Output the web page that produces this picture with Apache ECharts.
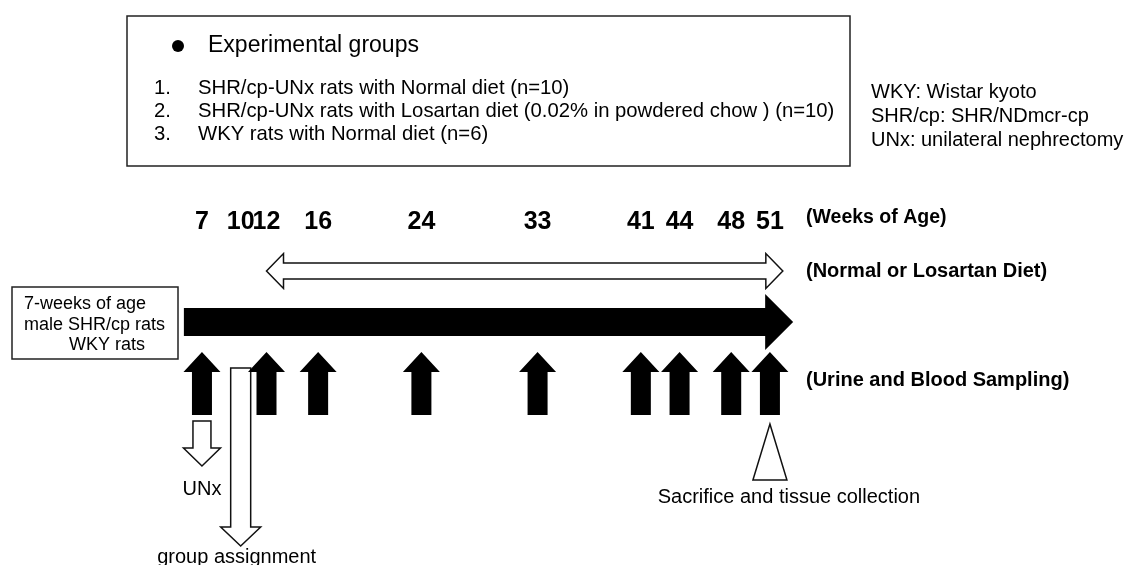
<!DOCTYPE html>
<html><head><meta charset="utf-8">
<script src="https://cdn.jsdelivr.net/npm/echarts@6/dist/echarts.min.js"></script>
<style>html,body{margin:0;padding:0;background:#fff}#c{width:1127px;height:565px}</style>
</head><body><div id="c"></div>
<script>
// ---- data (weeks of age) ----
const weekLabels = [7, 10, 12, 16, 24, 33, 41, 44, 48, 51];
const samplingWeeks = [7, 12, 16, 24, 33, 41, 44, 48, 51];
const timelineSpan = [5.6, 52.8];
const dietSpan = [12, 52];
const unxWeek = 7;
const groupAssignWeek = 10;
const sacrificeWeek = 51;
const groupLines = [
  'SHR/cp-UNx rats with Normal diet (n=10)',
  'SHR/cp-UNx rats with Losartan diet (0.02% in powdered chow ) (n=10)',
  'WKY rats with Normal diet (n=6)'
];
const abbreviations = ['WKY: Wistar kyoto', 'SHR/cp: SHR/NDmcr-cp', 'UNx: unilateral nephrectomy'];
const startBoxLines = ['7-weeks of age', 'male SHR/cp rats', 'WKY rats'];
const rowTitles = ['(Weeks of Age)', '(Normal or Losartan Diet)', '(Urine and Blood Sampling)'];

// ---- layout ----
const FF = '"Liberation Sans", Arial, Helvetica, sans-serif';
const Y = { weeks: 222, diet: 271, main: 322, sampTop: 352, sampHead: 372, sampBot: 415 };
const STROKE = '#111';

function txt(text, x, y, size, opts) {
  opts = opts || {};
  const align = opts.align || 'left';
  return {
    type: 'text', silent: true,
    style: {
      text: text, x: x, y: y,
      font: (opts.bold ? 'bold ' : '') + size + 'px ' + FF,
      fill: '#000', align: align, textAlign: align,
      verticalAlign: 'middle', textVerticalAlign: 'middle'
    }
  };
}

const graphics = [];
// top box
graphics.push({ type: 'rect', shape: { x: 127, y: 16, width: 723, height: 150 }, style: { fill: 'none', stroke: '#222', lineWidth: 1.5 } });
graphics.push({ type: 'circle', shape: { cx: 178, cy: 46, r: 6 }, style: { fill: '#000' } });
graphics.push(txt('Experimental groups', 208, 46, 23));
groupLines.forEach(function (l, i) {
  graphics.push(txt((i + 1) + '.', 154, 88 + i * 23, 20.3));
  graphics.push(txt(l, 198, 88 + i * 23, 20.3));
});
abbreviations.forEach(function (l, i) { graphics.push(txt(l, 871, 92 + i * 24, 20)); });
// start box
graphics.push({ type: 'rect', shape: { x: 12, y: 287, width: 166, height: 72 }, style: { fill: '#fff', stroke: '#222', lineWidth: 1.5 } });
graphics.push(txt(startBoxLines[0], 24, 304, 18));
graphics.push(txt(startBoxLines[1], 24, 325, 18));
graphics.push(txt(startBoxLines[2], 69, 345, 18));
// row titles
graphics.push(txt(rowTitles[0], 806, 218, 19.5, { bold: true }));
graphics.push(txt(rowTitles[1], 806, 271, 20, { bold: true }));
graphics.push(txt(rowTitles[2], 806, 380, 20, { bold: true }));

const chart = echarts.init(document.getElementById('c'), null, { renderer: 'canvas' });

function poly(points, fill) {
  return { type: 'polygon', shape: { points: points }, style: { fill: fill, stroke: STROKE, lineWidth: fill === '#fff' ? 1.5 : 0 } };
}

chart.setOption({
  animation: false,
  backgroundColor: '#fff',
  grid: { left: 111.6, top: 0, width: 774.5, height: 565 },
  xAxis: { type: 'value', min: 0, max: 60, show: false },
  yAxis: { type: 'value', min: 0, max: 565, inverse: true, show: false },
  graphic: graphics,
  series: [
    { // main timeline arrow
      type: 'custom', clip: false, silent: true,
      data: [[timelineSpan[0], timelineSpan[1]]],
      renderItem: function (params, api) {
        const x1 = api.coord([api.value(0), Y.main])[0];
        const x2 = api.coord([api.value(1), Y.main])[0];
        const y = api.coord([0, Y.main])[1];
        const hb = x2 - 28;
        return poly([[x1, y - 14], [hb, y - 14], [hb, y - 28], [x2, y], [hb, y + 28], [hb, y + 14], [x1, y + 14]], '#000');
      }
    },
    { // diet double arrow
      type: 'custom', clip: false, silent: true,
      data: [[dietSpan[0], dietSpan[1]]],
      renderItem: function (params, api) {
        const x1 = api.coord([api.value(0), Y.diet])[0];
        const x2 = api.coord([api.value(1), Y.diet])[0];
        const y = api.coord([0, Y.diet])[1];
        const h = 17;
        return poly([[x1, y], [x1 + h, y - 17.5], [x1 + h, y - 8], [x2 - h, y - 8], [x2 - h, y - 17.5], [x2, y],
          [x2 - h, y + 17.5], [x2 - h, y + 8], [x1 + h, y + 8], [x1 + h, y + 17.5]], '#fff');
      }
    },
    { // week labels
      type: 'custom', clip: false, silent: true,
      data: weekLabels.map(function (w) { return [w, Y.weeks]; }),
      renderItem: function (params, api) {
        const p = api.coord([api.value(0), api.value(1)]);
        return txt(String(api.value(0)), p[0], p[1], 25, { bold: true, align: 'center' });
      }
    },
    { // UNx and group assignment hollow arrows (drawn under the sampling arrows)
      type: 'custom', clip: false, silent: true, z: 1,
      data: [[unxWeek, 421, 448, 466, 9, 18.5], [groupAssignWeek, 368, 527, 546, 10, 20]],
      renderItem: function (params, api) {
        const cx = api.coord([api.value(0), 0])[0];
        const top = api.value(1), hb = api.value(2), tip = api.value(3), bw = api.value(4), hw = api.value(5);
        const label = params.dataIndex === 0 ? 'UNx' : 'group assignment';
        const ly = params.dataIndex === 0 ? 489 : 557;
        return {
          type: 'group', children: [
            poly([[cx - bw, top], [cx + bw, top], [cx + bw, hb], [cx + hw, hb], [cx, tip], [cx - hw, hb], [cx - bw, hb]], '#fff'),
            txt(label, params.dataIndex === 0 ? cx : cx - 4, ly, 20, { align: 'center' })
          ]
        };
      }
    },
    { // sampling arrows
      type: 'custom', clip: false, silent: true, z: 3,
      data: samplingWeeks.map(function (w) { return [w, Y.sampTop]; }),
      renderItem: function (params, api) {
        const p = api.coord([api.value(0), api.value(1)]);
        const cx = p[0], t = p[1];
        const hb = t + (Y.sampHead - Y.sampTop), b = t + (Y.sampBot - Y.sampTop);
        return poly([[cx, t], [cx + 18.5, hb], [cx + 10, hb], [cx + 10, b], [cx - 10, b], [cx - 10, hb], [cx - 18.5, hb]], '#000');
      }
    },
    { // sacrifice triangle
      type: 'custom', clip: false, silent: true,
      data: [[sacrificeWeek, 424]],
      renderItem: function (params, api) {
        const p = api.coord([api.value(0), api.value(1)]);
        const cx = p[0], t = p[1];
        return {
          type: 'group', children: [
            poly([[cx, t], [cx + 17, t + 56], [cx - 17, t + 56]], '#fff'),
            txt('Sacrifice and tissue collection', cx + 19, t + 73, 20, { align: 'center' })
          ]
        };
      }
    }
  ]
});
</script></body></html>
